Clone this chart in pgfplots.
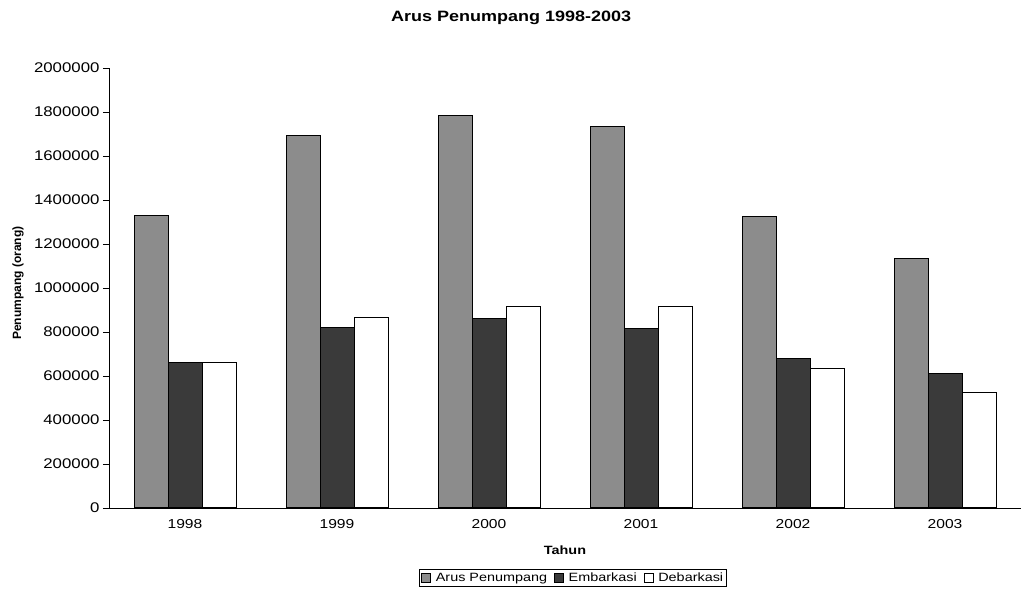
\documentclass[border=0pt]{standalone}
\usepackage{fontspec}
\setmainfont{Liberation Sans}[FakeStretch=1.2]
\newfontfamily\labfont{Liberation Sans}
\usepackage{pgfplots}
\pgfplotsset{compat=1.18}
\definecolor{arus}{RGB}{140,140,140}
\definecolor{emb}{RGB}{58,58,58}
\begin{document}
\begin{tikzpicture}
\useasboundingbox (0,0) rectangle (1022pt,594pt);
\begin{axis}[
  at={(109pt,86pt)}, anchor=south west,
  scale only axis, width=912pt, height=440pt,
  xmin=-0.5, xmax=5.5, ymin=0, ymax=2000000,
  axis x line=bottom, axis y line=left,
  axis line style={-, black, line width=0.9pt},
  ybar, bar width=34pt,
  xtick={0,1,2,3,4,5},
  xticklabels={1998,1999,2000,2001,2002,2003},
  x tick style={draw=none},
  extra x ticks={0.5,1.5,2.5,3.5,4.5},
  extra x tick labels={},
  extra x tick style={tick style={draw=black, line width=0.8pt}, major tick length=6pt, tick align=outside},
  ytick={0,200000,...,2000000},
  y tick style={draw=black, line width=0.8pt},
  major tick length=6pt, tick align=outside,
  scaled y ticks=false,
  /pgf/number format/assume math mode=true,
  yticklabel style={/pgf/number format/fixed, /pgf/number format/precision=0, /pgf/number format/1000 sep={}, font=\fontsize{14}{16}\selectfont},
  xticklabel style={font=\fontsize{13}{15}\selectfont, yshift=-2pt},
  title={\bfseries Arus Penumpang 1998-2003},
  title style={at={(0.441,1.10)}, anchor=center, font=\fontsize{15}{17}\selectfont},
  xlabel={\bfseries Tahun},
  xlabel style={at={(0.5,-0.0955)}, anchor=center, font=\fontsize{12}{14}\selectfont},
  ylabel={\labfont\bfseries Penumpang (orang)},
  ylabel style={at={(-0.0998,0.511)}, anchor=center, rotate=0, font=\fontsize{12}{14}\selectfont},
  legend style={at={(0.509,-0.159)}, anchor=center, legend columns=3, draw=black, line width=0.6pt,
    font=\fontsize{12}{14}\selectfont, inner sep=1.5pt,
    /tikz/every odd column/.append style={column sep=3pt},
    /tikz/every even column/.append style={column sep=5pt}},
  legend image code/.code={\draw[#1, line width=0.6pt] (0pt,-4pt) rectangle (9pt,5pt);},
]
\addplot[fill=arus, draw=black, line width=1pt, bar shift=-34pt] coordinates {(0,1330000) (1,1695000) (2,1785000) (3,1735000) (4,1325000) (5,1135000)};
\addplot[fill=emb, draw=black, line width=1pt, bar shift=0pt] coordinates {(0,660000) (1,820000) (2,860000) (3,815000) (4,680000) (5,610000)};
\addplot[fill=white, draw=black, line width=1pt, bar shift=34pt] coordinates {(0,660000) (1,865000) (2,915000) (3,915000) (4,635000) (5,525000)};
\legend{Arus Penumpang, Embarkasi, Debarkasi}
\end{axis}
\end{tikzpicture}
\end{document}
